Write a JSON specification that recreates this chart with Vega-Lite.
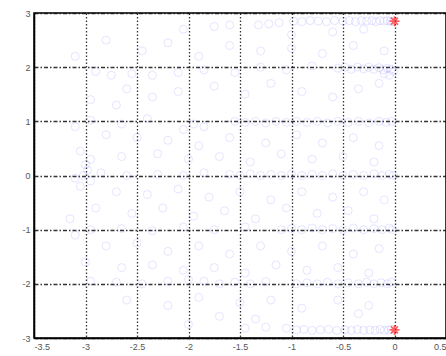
{
  "$schema": "https://vega.github.io/schema/vega-lite/v6.json",
  "autosize": {"type": "none"},
  "width": 412,
  "height": 325,
  "padding": {"left": 34, "top": 13, "right": 0, "bottom": 18},
  "background": "white",
  "config": {
    "view": {"stroke": "black", "strokeWidth": 1.5},
    "axis": {
      "labelFont": "Liberation Sans",
      "labelFontSize": 9,
      "labelColor": "#555",
      "ticks": false,
      "domainColor": "black",
      "domainWidth": 1.5,
      "gridColor": "#111",
      "gridWidth": 1.3,
      "gridOpacity": 0.85,
      "title": null
    },
    "axisX": {"gridDash": [1.5, 2], "labelPadding": 4},
    "axisY": {"gridDash": [4, 2, 1.5, 2], "labelPadding": 4}
  },
  "datasets": {
    "pts": [
      {"x":-1.32,"y":2.78},{"x":-1.22,"y":2.8},{"x":-1.12,"y":2.82},{"x":-0.98,"y":2.85},{"x":-0.9,"y":2.84},{"x":-0.82,"y":2.86},{"x":-0.74,"y":2.85},{"x":-0.66,"y":2.84},{"x":-0.58,"y":2.86},{"x":-0.5,"y":2.85},{"x":-0.44,"y":2.86},{"x":-0.38,"y":2.84},{"x":-0.32,"y":2.86},{"x":-0.27,"y":2.85},{"x":-0.22,"y":2.86},{"x":-0.18,"y":2.84},{"x":-0.14,"y":2.86},{"x":-0.1,"y":2.85},{"x":-0.07,"y":2.86},{"x":-0.04,"y":2.85},{"x":-0.02,"y":2.84},{"x":-1.75,"y":2.75},{"x":-1.6,"y":2.78},{"x":-2.05,"y":2.7},
      {"x":-0.6,"y":2.65},{"x":-0.3,"y":2.7},{"x":-1.0,"y":2.6},
      {"x":-0.55,"y":1.98},{"x":-0.48,"y":2.0},{"x":-0.42,"y":1.96},{"x":-0.36,"y":2.0},{"x":-0.3,"y":1.97},{"x":-0.25,"y":2.0},{"x":-0.2,"y":1.96},{"x":-0.15,"y":1.99},{"x":-0.11,"y":1.95},{"x":-0.07,"y":1.98},{"x":-0.03,"y":1.96},{"x":-0.01,"y":1.92},{"x":-0.05,"y":1.85},{"x":-0.1,"y":1.88},{"x":-0.8,"y":2.02},{"x":-1.05,"y":1.95},{"x":-1.3,"y":2.0},{"x":-1.55,"y":1.9},{"x":-1.85,"y":1.95},{"x":-2.1,"y":1.9},{"x":-2.35,"y":1.85},{"x":-2.55,"y":1.88},{"x":-2.75,"y":1.85},{"x":-2.9,"y":1.92},
      {"x":-2.6,"y":1.6},{"x":-2.95,"y":1.4},{"x":-2.7,"y":1.3},{"x":-2.35,"y":1.45},{"x":-2.1,"y":1.55},{"x":-1.75,"y":1.65},{"x":-1.45,"y":1.5},{"x":-1.2,"y":1.7},{"x":-0.9,"y":1.55},{"x":-0.6,"y":1.45},{"x":-0.35,"y":1.6},{"x":-0.15,"y":1.7},
      {"x":-2.45,"y":2.3},{"x":-2.2,"y":2.45},{"x":-1.9,"y":2.2},{"x":-1.6,"y":2.4},{"x":-1.3,"y":2.3},{"x":-1.0,"y":2.35},{"x":-0.7,"y":2.25},{"x":-0.4,"y":2.4},{"x":-0.1,"y":2.3},{"x":-2.8,"y":2.5},{"x":-3.1,"y":2.2},
      {"x":-1.55,"y":1.0},{"x":-1.45,"y":0.98},{"x":-1.35,"y":1.0},{"x":-1.25,"y":0.97},{"x":-1.15,"y":1.0},{"x":-1.05,"y":0.98},{"x":-0.95,"y":1.0},{"x":-0.85,"y":0.98},{"x":-0.75,"y":1.0},{"x":-0.65,"y":0.97},{"x":-0.55,"y":1.0},{"x":-0.45,"y":0.98},{"x":-0.35,"y":1.0},{"x":-0.25,"y":0.97},{"x":-0.15,"y":1.0},{"x":-0.08,"y":0.98},{"x":-0.03,"y":1.0},{"x":-1.95,"y":0.95},{"x":-1.85,"y":0.9},{"x":-2.05,"y":0.85},{"x":-2.4,"y":1.05},{"x":-2.65,"y":0.95},{"x":-2.95,"y":1.02},{"x":-3.1,"y":0.9},
      {"x":-2.8,"y":0.75},{"x":-2.5,"y":0.7},{"x":-2.2,"y":0.65},{"x":-1.9,"y":0.55},{"x":-1.6,"y":0.7},{"x":-1.25,"y":0.6},{"x":-0.95,"y":0.75},{"x":-0.7,"y":0.6},{"x":-0.4,"y":0.7},{"x":-0.15,"y":0.55},
      {"x":-2.3,"y":0.4},{"x":-2.0,"y":0.3},{"x":-1.7,"y":0.35},{"x":-1.4,"y":0.25},{"x":-1.1,"y":0.4},{"x":-0.8,"y":0.3},{"x":-0.5,"y":0.35},{"x":-0.2,"y":0.25},{"x":-2.65,"y":0.35},{"x":-3.05,"y":0.45},{"x":-2.95,"y":0.3},{"x":-3.0,"y":0.2},{"x":-2.98,"y":0.1},
      {"x":-1.6,"y":0.02},{"x":-1.5,"y":0.0},{"x":-1.4,"y":0.03},{"x":-1.3,"y":0.0},{"x":-1.2,"y":0.02},{"x":-1.1,"y":0.0},{"x":-1.0,"y":0.03},{"x":-0.9,"y":0.0},{"x":-0.8,"y":0.02},{"x":-0.7,"y":0.0},{"x":-0.6,"y":0.03},{"x":-0.5,"y":0.0},{"x":-0.4,"y":0.02},{"x":-0.3,"y":0.0},{"x":-0.2,"y":0.03},{"x":-0.12,"y":0.0},{"x":-0.05,"y":0.02},{"x":-0.01,"y":0.0},{"x":-1.85,"y":0.05},{"x":-2.05,"y":0.0},{"x":-2.3,"y":0.02},{"x":-2.6,"y":0.0},{"x":-2.85,"y":0.05},{"x":-3.02,"y":0.0},{"x":-3.1,"y":-0.05},{"x":-2.95,"y":-0.1},{"x":-3.05,"y":-0.2},
      {"x":-2.7,"y":-0.3},{"x":-2.4,"y":-0.35},{"x":-2.1,"y":-0.25},{"x":-1.8,"y":-0.4},{"x":-1.5,"y":-0.3},{"x":-1.2,"y":-0.45},{"x":-0.9,"y":-0.3},{"x":-0.6,"y":-0.4},{"x":-0.3,"y":-0.3},{"x":-0.1,"y":-0.45},{"x":-2.9,"y":-0.6},{"x":-2.55,"y":-0.7},{"x":-2.25,"y":-0.6},{"x":-1.95,"y":-0.75},{"x":-1.65,"y":-0.65},{"x":-1.35,"y":-0.8},{"x":-1.05,"y":-0.6},{"x":-0.75,"y":-0.7},{"x":-0.45,"y":-0.65},{"x":-0.2,"y":-0.8},{"x":-3.15,"y":-0.8},
      {"x":-1.1,"y":-1.0},{"x":-1.0,"y":-0.98},{"x":-0.9,"y":-1.0},{"x":-0.8,"y":-0.97},{"x":-0.7,"y":-1.0},{"x":-0.6,"y":-0.98},{"x":-0.5,"y":-1.0},{"x":-0.4,"y":-0.97},{"x":-0.3,"y":-1.0},{"x":-0.2,"y":-0.98},{"x":-0.12,"y":-1.0},{"x":-0.05,"y":-0.97},{"x":-0.02,"y":-1.0},{"x":-1.45,"y":-0.95},{"x":-1.75,"y":-1.0},{"x":-2.05,"y":-0.95},{"x":-2.35,"y":-1.02},{"x":-2.65,"y":-0.98},{"x":-2.95,"y":-1.0},{"x":-3.1,"y":-1.1},
      {"x":-2.8,"y":-1.3},{"x":-2.5,"y":-1.25},{"x":-2.2,"y":-1.4},{"x":-1.9,"y":-1.3},{"x":-1.6,"y":-1.45},{"x":-1.3,"y":-1.3},{"x":-1.0,"y":-1.4},{"x":-0.7,"y":-1.3},{"x":-0.4,"y":-1.45},{"x":-0.15,"y":-1.35},{"x":-3.0,"y":-1.6},{"x":-2.65,"y":-1.7},{"x":-2.35,"y":-1.65},{"x":-2.05,"y":-1.75},{"x":-1.75,"y":-1.7},{"x":-1.45,"y":-1.8},{"x":-1.15,"y":-1.65},{"x":-0.85,"y":-1.75},{"x":-0.55,"y":-1.7},{"x":-0.25,"y":-1.8},
      {"x":-0.95,"y":-2.0},{"x":-0.85,"y":-1.98},{"x":-0.75,"y":-2.0},{"x":-0.65,"y":-1.97},{"x":-0.55,"y":-2.0},{"x":-0.45,"y":-1.98},{"x":-0.35,"y":-2.0},{"x":-0.27,"y":-1.97},{"x":-0.2,"y":-2.0},{"x":-0.13,"y":-1.98},{"x":-0.07,"y":-2.0},{"x":-0.03,"y":-1.97},{"x":-2.2,"y":-1.95},{"x":-2.0,"y":-1.92},{"x":-1.85,"y":-1.95},{"x":-1.7,"y":-2.0},{"x":-1.55,"y":-1.97},{"x":-1.4,"y":-2.0},{"x":-1.25,"y":-1.96},{"x":-2.45,"y":-2.0},{"x":-2.7,"y":-1.97},{"x":-2.95,"y":-1.95},
      {"x":-2.6,"y":-2.3},{"x":-2.2,"y":-2.4},{"x":-1.9,"y":-2.25},{"x":-1.5,"y":-2.35},{"x":-1.2,"y":-2.3},{"x":-0.9,"y":-2.45},{"x":-0.55,"y":-2.3},{"x":-0.25,"y":-2.4},{"x":-0.35,"y":-2.55},{"x":-1.7,"y":-2.6},{"x":-1.35,"y":-2.65},{"x":-2.0,"y":-2.75},
      {"x":-1.05,"y":-2.82},{"x":-0.95,"y":-2.85},{"x":-0.88,"y":-2.84},{"x":-0.8,"y":-2.86},{"x":-0.72,"y":-2.85},{"x":-0.64,"y":-2.84},{"x":-0.56,"y":-2.86},{"x":-0.48,"y":-2.85},{"x":-0.42,"y":-2.86},{"x":-0.36,"y":-2.84},{"x":-0.3,"y":-2.86},{"x":-0.24,"y":-2.85},{"x":-0.19,"y":-2.86},{"x":-0.14,"y":-2.84},{"x":-0.1,"y":-2.86},{"x":-0.06,"y":-2.85},{"x":-0.03,"y":-2.84},{"x":-1.25,"y":-2.8},{"x":-1.45,"y":-2.82}
    ],
    "stars": [{"x": 0, "y": 2.85}, {"x": 0, "y": -2.85}]
  },
  "layer": [
    {
      "data": {"name": "pts"},
      "mark": {"type": "point", "shape": "circle", "filled": false, "stroke": "#5a5aff", "strokeOpacity": 0.22, "strokeWidth": 1, "size": 64},
      "encoding": {
        "x": {
          "field": "x", "type": "quantitative",
          "scale": {"domain": [-3.5, 0.5], "nice": false, "zero": false},
          "axis": {"values": [-3.5, -3, -2.5, -2, -1.5, -1, -0.5, 0, 0.5], "labelExpr": "replace(format(datum.value, '~g'), '\u2212', '-')"}
        },
        "y": {
          "field": "y", "type": "quantitative",
          "scale": {"domain": [-3, 3], "nice": false, "zero": false},
          "axis": {"values": [-3, -2, -1, 0, 1, 2, 3], "labelExpr": "replace(format(datum.value, '~g'), '\u2212', '-')"}
        }
      }
    },
    {
      "data": {"name": "stars"},
      "mark": {"type": "point", "shape": "M-1,0L1,0M0,-1L0,1M-0.7,-0.7L0.7,0.7M-0.7,0.7L0.7,-0.7", "filled": false, "stroke": "#ff2020", "strokeWidth": 1.6, "size": 100},
      "encoding": {
        "x": {"field": "x", "type": "quantitative"},
        "y": {"field": "y", "type": "quantitative"}
      }
    }
  ]
}
